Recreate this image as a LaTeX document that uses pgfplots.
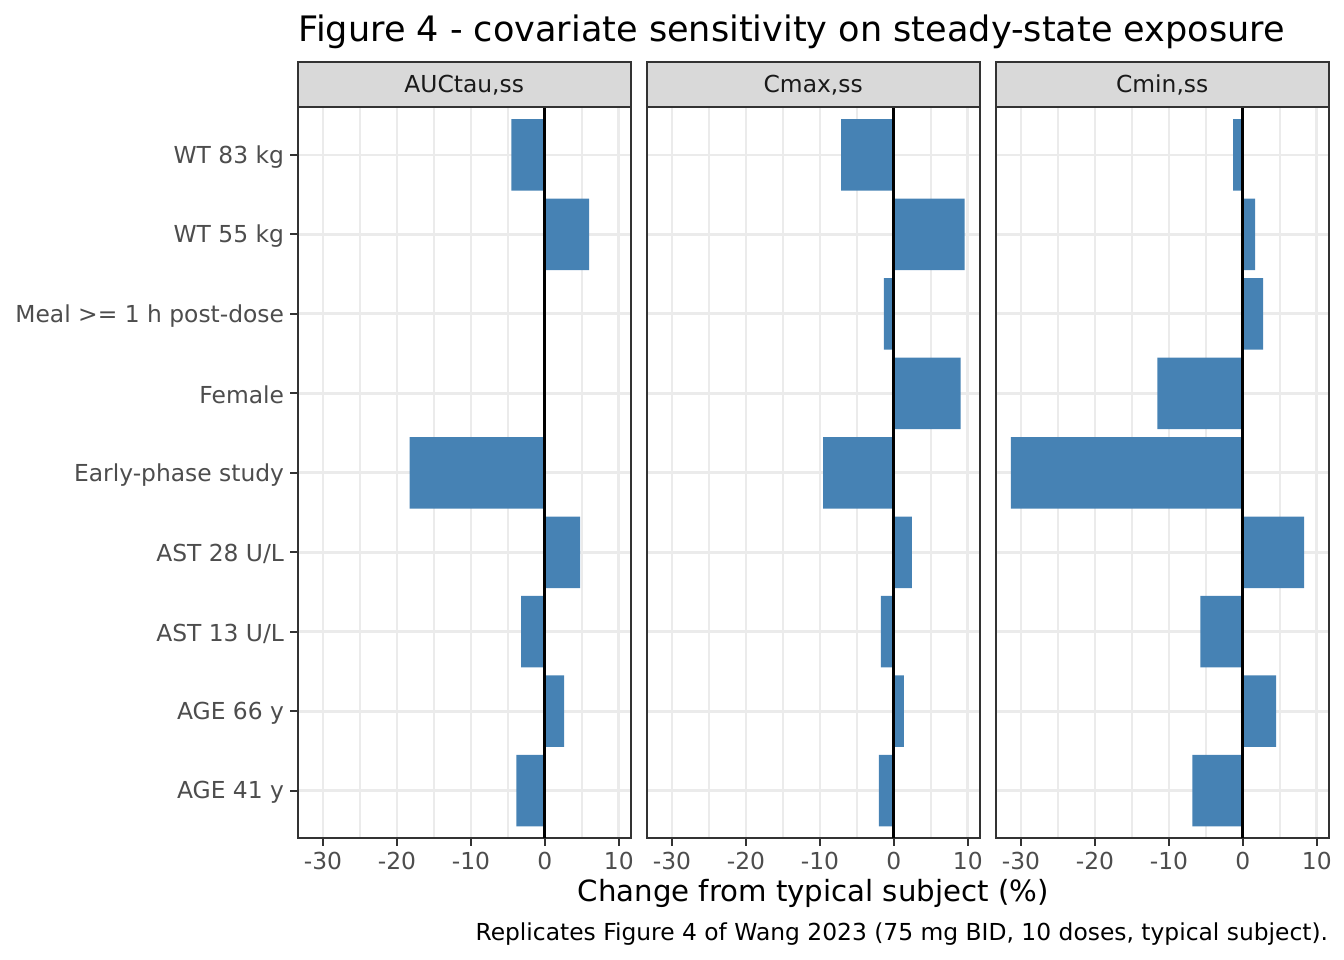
\documentclass[border=0pt]{standalone}
\usepackage{fontspec}
\setmainfont{DejaVu Sans}
\usepackage{pgfplots}
\pgfplotsset{compat=1.18}
\definecolor{steel}{HTML}{4682B4}
\definecolor{gray92}{HTML}{EBEBEB}
\definecolor{gray85}{HTML}{D9D9D9}
\definecolor{gray20}{HTML}{333333}
\definecolor{gray30}{HTML}{4D4D4D}
\definecolor{gray10}{HTML}{1A1A1A}
\newlength\px
\setlength\px{0.376406pt}

\pgfplotsset{panel/.style={
  scale only axis, width=333\px, height=731\px,
  xmin=-33.42, xmax=11.6, ymin=0.4, ymax=9.6,
  xtick={-30,-20,-10,0,10}, xticklabels={-30,-20,-10,0,10},
  minor xtick={-25,-15,-5,5},
  ytick={1,2,3,4,5,6,7,8,9},
  grid=both,
  major grid style={gray92, line width=1.07pt},
  minor grid style={gray92, line width=0.53pt},
  axis line style={gray20, line width=0.8pt},
  tick align=outside, major tick length=2.75pt, minor tick length=0pt,
  major tick style={gray20, line width=0.8pt},
  xtick pos=left, ytick pos=left,
  tick label style={font=\fontsize{8.8}{10}\selectfont, text=gray30},
  xticklabel style={inner sep=0pt, yshift=-2.2pt},
  yticklabel style={inner sep=0pt, xshift=-2.2pt, yshift=-0.7pt},
  bar width=0.9,
}}

\begin{document}
\begin{tikzpicture}[x=\px, y=\px]
\path[use as bounding box] (0,0) rectangle (1344,960);

% Panel 1: AUCtau,ss
\begin{axis}[panel, at={(297.7\px,121.7\px)}, anchor=south west,
  yticklabels={AGE 41 y, AGE 66 y, AST 13 U/L, AST 28 U/L, Early-phase study, Female, Meal >= 1 h post-dose, WT 55 kg, WT 83 kg}]
\addplot[xbar, fill=steel, draw=none] coordinates {
(-3.87,1) (2.6,2) (-3.2,3) (4.76,4) (-18.3,5) (0,6) (0,7) (5.97,8) (-4.54,9)};
\addplot[sharp plot, black, line width=1.07pt, no marks] coordinates {(0,0.4) (0,9.6)};
\end{axis}

% Panel 2: Cmax,ss
\begin{axis}[panel, at={(646.7\px,121.7\px)}, anchor=south west,
  yticklabels={}, y tick style={draw=none}]
\addplot[xbar, fill=steel, draw=none] coordinates {
(-2.02,1) (1.35,2) (-1.75,3) (2.42,4) (-9.56,5) (9.02,6) (-1.35,7) (9.56,8) (-7.13,9)};
\addplot[sharp plot, black, line width=1.07pt, no marks] coordinates {(0,0.4) (0,9.6)};
\end{axis}

% Panel 3: Cmin,ss
\begin{axis}[panel, at={(995.7\px,121.7\px)}, anchor=south west,
  yticklabels={}, y tick style={draw=none}]
\addplot[xbar, fill=steel, draw=none] coordinates {
(-6.83,1) (4.49,2) (-5.75,3) (8.27,4) (-31.37,5) (-11.55,6) (2.74,7) (1.66,8) (-1.31,9)};
\addplot[sharp plot, black, line width=1.07pt, no marks] coordinates {(0,0.4) (0,9.6)};
\end{axis}

% strips
\foreach \xa/\lab in {297.7/{AUCtau,ss}, 646.7/{Cmax,ss}, 995.7/{Cmin,ss}} {
  \filldraw[fill=gray85, draw=gray20, line width=0.8pt] (\xa,852.7) rectangle ({\xa+333},897.7);
  \node[font=\fontsize{8.8}{10}\selectfont, text=gray10, inner sep=0pt] at ({\xa+166.5},875.2) {\lab};
}

% title, axis label, caption
\node[anchor=base west, font=\fontsize{13.2}{15}\selectfont, inner sep=0pt] at (298,918) {Figure 4 - covariate sensitivity on steady-state exposure};
\node[anchor=base, font=\fontsize{11}{13}\selectfont, inner sep=0pt] at (813.2,59) {Change from typical subject (\%)};
\node[anchor=base east, font=\fontsize{8.8}{10}\selectfont, inner sep=0pt] at (1328.7,20) {Replicates Figure 4 of Wang 2023 (75 mg BID, 10 doses, typical subject).};
\end{tikzpicture}
\end{document}
